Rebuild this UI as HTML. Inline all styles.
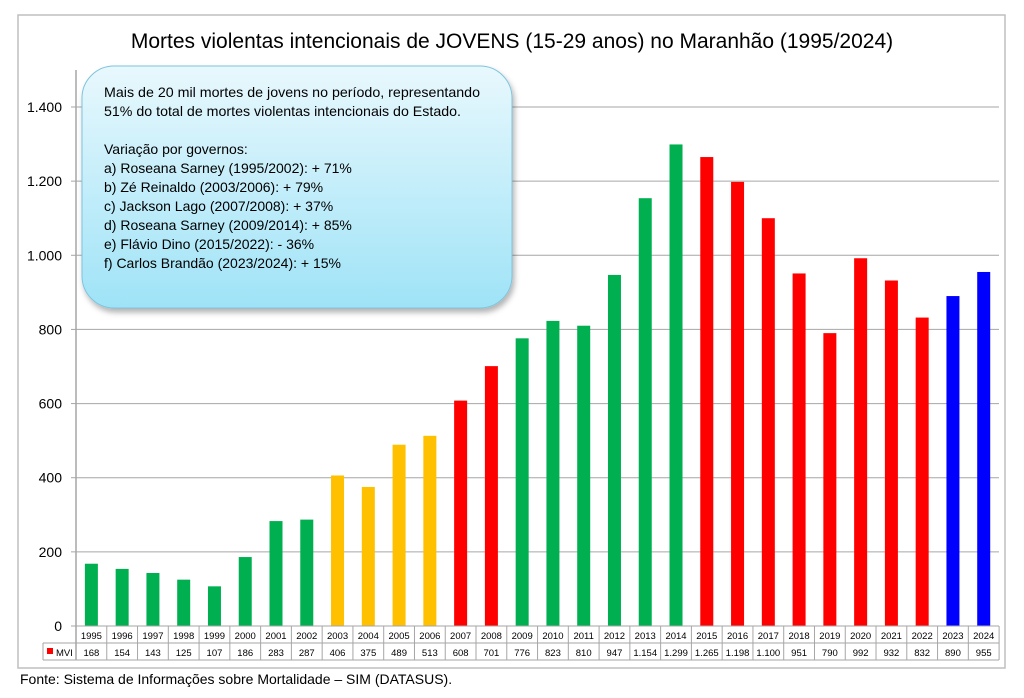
<!DOCTYPE html>
<html><head><meta charset="utf-8"><style>
body{margin:0;background:#fff;}
svg{display:block;font-family:"Liberation Sans",sans-serif;}
</style></head><body>
<svg id="s" width="1024" height="698" viewBox="0 0 1024 698" xmlns="http://www.w3.org/2000/svg">
<defs>
<linearGradient id="g" x1="0" y1="0" x2="0" y2="1">
<stop offset="0" stop-color="#e8f8fd"/><stop offset="1" stop-color="#9fe3f7"/>
</linearGradient>
<filter id="sh" x="-10%" y="-10%" width="120%" height="130%"><feDropShadow dx="2" dy="4" stdDeviation="3" flood-color="#000" flood-opacity="0.3"/></filter>
</defs>
<rect x="18" y="15" width="987" height="653" fill="#fff" stroke="#bfbfbf" stroke-width="1.5"/>
<text x="512" y="48" font-size="21" text-anchor="middle" fill="#000">Mortes violentas intencionais de JOVENS (15-29 anos) no Maranhão (1995/2024)</text>
<g id="chart"></g>
<rect x="82" y="66" width="430" height="242" rx="32" fill="url(#g)" stroke="#7fc4dc" stroke-width="1" filter="url(#sh)"/>
<g font-size="14" fill="#000">
<text x="104" y="97" textLength="376" lengthAdjust="spacingAndGlyphs">Mais de 20 mil mortes de jovens no período, representando</text>
<text x="104" y="116" textLength="357" lengthAdjust="spacingAndGlyphs">51% do total de mortes violentas intencionais do Estado.</text>
<text x="104" y="154">Variação por governos:</text>
<text x="104" y="173">a) Roseana Sarney (1995/2002): + 71%</text>
<text x="104" y="192">b) Zé Reinaldo (2003/2006): + 79%</text>
<text x="104" y="211">c) Jackson Lago (2007/2008): + 37%</text>
<text x="104" y="230">d) Roseana Sarney (2009/2014): + 85%</text>
<text x="104" y="249">e) Flávio Dino (2015/2022): - 36%</text>
<text x="104" y="268">f) Carlos Brandão (2023/2024): + 15%</text>
</g>
<text x="20" y="684" font-size="14" fill="#000">Fonte: Sistema de Informações sobre Mortalidade – SIM (DATASUS).</text>
</svg>
<script>
var v=[168,154,143,125,107,186,283,287,406,375,489,513,608,701,776,823,810,947,1154,1299,1265,1198,1100,951,790,992,932,832,890,955];
var G="#00b050",Y="#ffc000",R="#ff0000",B="#0000ff";
var c=[G,G,G,G,G,G,G,G,Y,Y,Y,Y,R,R,G,G,G,G,G,G,R,R,R,R,R,R,R,R,B,B];
var s="",x0=76,w=30.77,y0=626,k=(626-107)/1400;
for(var t=0;t<=1400;t+=200){var y=y0-t*k;
 if(t>0)s+='<line x1="'+x0+'" x2="999" y1="'+y+'" y2="'+y+'" stroke="#a6a6a6" stroke-width="1"/>';
 s+='<line x1="71" x2="76" y1="'+y+'" y2="'+y+'" stroke="#a6a6a6"/>';
 s+='<text x="62" y="'+(y+5)+'" font-size="14" text-anchor="end">'+(t>=1000?t.toString().replace(/(\d)(\d{3})$/,"$1.$2"):t)+'</text>';}
s+='<line x1="76" x2="76" y1="70" y2="660" stroke="#a6a6a6" stroke-width="1.5"/>';
for(var i=0;i<30;i++){var cx=x0+(i+.5)*w,h=v[i]*k;
 s+='<rect x="'+(cx-6.5)+'" y="'+(y0-h)+'" width="13" height="'+h+'" fill="'+c[i]+'"/>';
 s+='<text x="'+cx+'" y="639" font-size="9.5" text-anchor="middle">'+(1995+i)+'</text>';
 var lab=v[i]>=1000?String(v[i]).replace(/(\d)(\d{3})$/,"$1.$2"):v[i];
 s+='<text x="'+cx+'" y="656" font-size="9.5" text-anchor="middle">'+lab+'</text>';}
var st='stroke="#a6a6a6" stroke-width="1"';
s+='<line x1="76" x2="999" y1="626" y2="626" '+st+'/>';
s+='<line x1="43" x2="999" y1="643" y2="643" '+st+'/>';
s+='<line x1="43" x2="999" y1="660" y2="660" '+st+'/>';
s+='<line x1="43" x2="43" y1="643" y2="660" '+st+'/>';
for(var i=0;i<=30;i++){var x=x0+i*w;s+='<line x1="'+x+'" x2="'+x+'" y1="626" y2="660" '+st+'/>';}
s+='<rect x="47" y="648" width="6" height="6" fill="#ff0000"/>';
s+='<text x="56" y="656" font-size="9.5">MVI</text>';
document.getElementById("chart").innerHTML=s;
</script>
</body></html>
